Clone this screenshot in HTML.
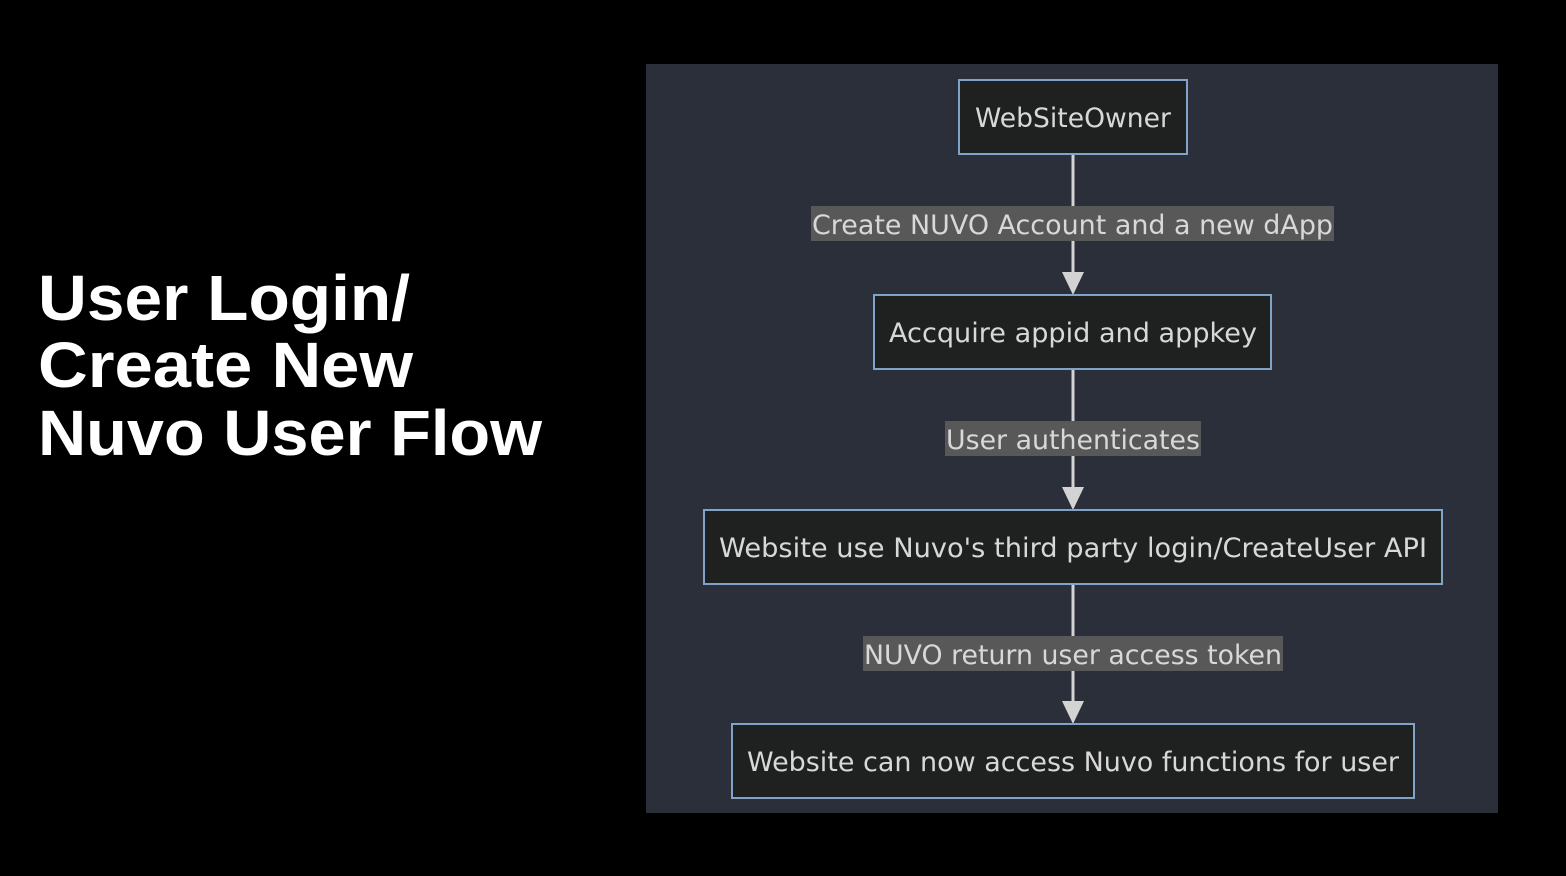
<!DOCTYPE html>
<html><head><meta charset="utf-8"><style>
html,body{margin:0;padding:0;background:#000;width:1566px;height:876px;overflow:hidden}
</style></head><body>
<svg width="1566" height="876" xmlns="http://www.w3.org/2000/svg">
<rect width="1566" height="876" fill="#000"/>
<g font-family="Liberation Sans, Arial, sans-serif" font-weight="bold" fill="#fff" font-size="64">
<text x="38" y="320" textLength="372" lengthAdjust="spacingAndGlyphs">User Login/</text>
<text x="38" y="387" textLength="375" lengthAdjust="spacingAndGlyphs">Create New</text>
<text x="38" y="455" textLength="504" lengthAdjust="spacingAndGlyphs">Nuvo User Flow</text>
</g>
<rect x="646" y="64" width="852" height="749" fill="#2b2f3a"/>
<g stroke="#d3d3d3" stroke-width="3">
<line x1="1073" y1="154" x2="1073" y2="275"/>
<line x1="1073" y1="369" x2="1073" y2="490"/>
<line x1="1073" y1="584" x2="1073" y2="704"/>
</g>
<g fill="#d3d3d3">
<polygon points="1062,272 1084,272 1073,295"/>
<polygon points="1062,487 1084,487 1073,510"/>
<polygon points="1062,701 1084,701 1073,724"/>
</g>
<g fill="#1f2020" stroke="#81a3c8" stroke-width="2">
<rect x="959" y="80" width="228" height="74"/>
<rect x="874" y="295" width="397" height="74"/>
<rect x="704" y="510" width="738" height="74"/>
<rect x="732" y="724" width="682" height="74"/>
</g>
<g fill="#585858">
<rect x="811" y="206" width="523" height="35"/>
<rect x="945" y="421" width="256" height="35"/>
<rect x="863" y="636" width="420" height="35"/>
</g>
<g font-family="DejaVu Sans, sans-serif" font-size="27" fill="#d8d8d8" lengthAdjust="spacingAndGlyphs">
<text x="975" y="127" textLength="196" lengthAdjust="spacingAndGlyphs">WebSiteOwner</text>
<text x="889" y="342" textLength="368" lengthAdjust="spacingAndGlyphs">Accquire appid and appkey</text>
<text x="719" y="557" textLength="708" lengthAdjust="spacingAndGlyphs">Website use Nuvo's third party login/CreateUser API</text>
<text x="747" y="771" textLength="652" lengthAdjust="spacingAndGlyphs">Website can now access Nuvo functions for user</text>
<text x="812" y="234" textLength="521" lengthAdjust="spacingAndGlyphs">Create NUVO Account and a new dApp</text>
<text x="946" y="449" textLength="254" lengthAdjust="spacingAndGlyphs">User authenticates</text>
<text x="864" y="664" textLength="418" lengthAdjust="spacingAndGlyphs">NUVO return user access token</text>
</g>
</svg>
</body></html>
